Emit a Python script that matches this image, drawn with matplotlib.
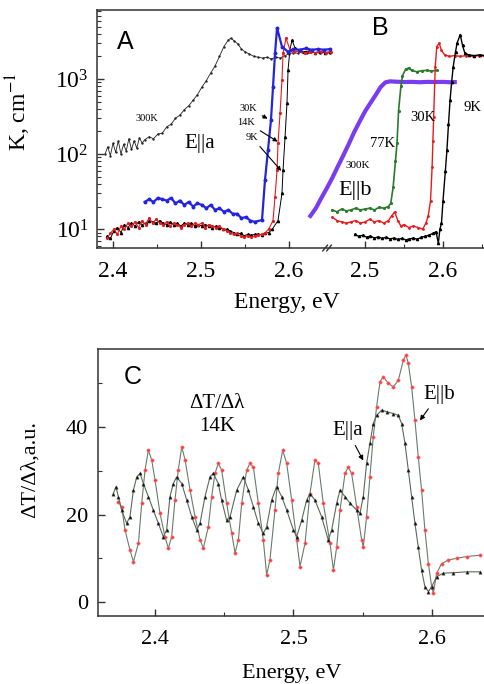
import numpy as np
import matplotlib
matplotlib.use("Agg")
import matplotlib.pyplot as plt
from matplotlib.ticker import FixedLocator, NullFormatter

plt.rcParams['font.family'] = ['Liberation Serif', 'DejaVu Serif']
plt.rcParams['mathtext.fontset'] = 'stix'

# ---------------- panel A (E||a), absorption, log scale ----------------
E_a300 = [2.391, 2.394, 2.397, 2.400, 2.403, 2.406, 2.409, 2.412, 2.415, 2.418, 2.421, 2.424,
          2.427, 2.430, 2.433, 2.436, 2.441, 2.446, 2.451, 2.456, 2.461, 2.466, 2.471, 2.476,
          2.481, 2.486, 2.491, 2.496, 2.501, 2.506, 2.511, 2.516, 2.521, 2.526, 2.531, 2.534,
          2.538, 2.542, 2.546, 2.550, 2.555, 2.560, 2.565, 2.570, 2.575, 2.580, 2.585, 2.590,
          2.595, 2.600, 2.605, 2.610, 2.615, 2.620, 2.625, 2.630, 2.635, 2.640, 2.646]
K_a300 = [100, 125, 95, 140, 105, 150, 100, 135, 110, 160, 115, 150,
          120, 165, 140, 155, 170, 160, 185, 190, 230, 250, 300, 330,
          390, 440, 520, 620, 780, 950, 1200, 1500, 2000, 2700, 3300, 3500,
          3200, 2900, 2500, 2300, 2150, 2000, 1950, 1900, 1950, 1850, 1950, 1900,
          2050, 2150, 2250, 2200, 2300, 2200, 2300, 2250, 2200, 2300, 2200]

E_a30 = [2.436, 2.441, 2.446, 2.451, 2.456, 2.461, 2.466, 2.471, 2.476, 2.481, 2.486, 2.491,
         2.496, 2.501, 2.506, 2.511, 2.516, 2.521, 2.526, 2.531, 2.536, 2.541, 2.546, 2.551,
         2.556, 2.561, 2.5693, 2.5727, 2.5761, 2.5795, 2.5818, 2.5841, 2.5864, 2.592, 2.5989,
         2.605, 2.612, 2.619, 2.626, 2.633, 2.640, 2.646]
K_a30 = [23, 25, 23, 26, 25, 24, 26, 22, 24, 21, 23, 20,
         22, 21, 19, 21, 18, 19, 17, 18, 16, 16, 14, 14.5,
         13, 12.5, 13.2, 45, 113, 283, 780, 2200, 4800, 2700, 2300,
         2500, 2450, 2550, 2450, 2500, 2450, 2500]

E_a14 = [2.393, 2.397, 2.401, 2.405, 2.409, 2.413, 2.417, 2.421, 2.425, 2.429, 2.433, 2.437,
         2.441, 2.445, 2.449, 2.453, 2.457, 2.461, 2.465, 2.469, 2.473, 2.477, 2.481, 2.485,
         2.489, 2.493, 2.497, 2.501, 2.505, 2.509, 2.513, 2.517, 2.521, 2.525, 2.529, 2.533,
         2.537, 2.541, 2.545, 2.549, 2.553, 2.557, 2.561, 2.565, 2.569, 2.573, 2.577, 2.5818,
         2.5841, 2.5864, 2.5875, 2.5898, 2.592, 2.5932, 2.5966, 2.601, 2.606, 2.612, 2.618,
         2.624, 2.630, 2.636, 2.642, 2.648]
K_a14 = [7.5, 8.8, 10, 8.5, 11, 10, 12, 11, 12.5, 10.5, 13, 11.5,
         14, 12, 13.5, 12, 11.5, 12.5, 11, 12, 11.5, 10.5, 11.5, 12,
         11, 12, 11.5, 12, 10.5, 11.5, 11, 10.5, 11, 10, 9.5, 9,
         8.5, 8.8, 8, 7.8, 8.2, 7.8, 8, 8.3, 8.5, 9, 10, 13,
         27, 61, 140, 350, 970, 2200, 3500, 2450, 2300, 2350, 2250,
         2300, 2250, 2300, 2250, 2300]

E_a9 = [2.393, 2.397, 2.401, 2.405, 2.409, 2.413, 2.417, 2.421, 2.425, 2.429, 2.433, 2.437,
        2.441, 2.445, 2.449, 2.453, 2.457, 2.461, 2.465, 2.469, 2.473, 2.477, 2.481, 2.485,
        2.489, 2.493, 2.497, 2.501, 2.505, 2.509, 2.513, 2.517, 2.521, 2.525, 2.529, 2.533,
        2.537, 2.541, 2.545, 2.549, 2.553, 2.557, 2.561, 2.565, 2.569, 2.573, 2.577, 2.581,
        2.5875, 2.592, 2.5932, 2.5955, 2.5977, 2.5989, 2.601, 2.6034, 2.6068, 2.611, 2.617,
        2.623, 2.629, 2.635, 2.641, 2.647]
K_a9 = [8, 7.5, 9.5, 10.5, 9, 11.5, 10.5, 12, 11, 12.5, 11.5, 12,
        13, 12.5, 12, 13, 12, 11.5, 12.5, 11.5, 12, 11, 12, 11.5,
        12, 11, 11.5, 11, 11.5, 11, 10.5, 11, 10.5, 10, 10, 9.5,
        9, 8.5, 8.8, 8.2, 8.5, 8.3, 8.5, 8.6, 8.4, 8.8, 9, 10,
        13, 30, 61, 170, 480, 1320, 2450, 3300, 2600, 2400, 2300,
        2350, 2250, 2300, 2250, 2300]

# ---------------- panel B (E||b) ----------------
E_b300 = [2.430, 2.437, 2.444, 2.451, 2.458, 2.465, 2.472, 2.479, 2.486, 2.493, 2.500, 2.507,
          2.514, 2.520, 2.526, 2.532, 2.540, 2.550, 2.560, 2.570, 2.580, 2.590, 2.600, 2.608, 2.615]
K_b300 = [15, 19, 26, 35, 48, 68, 95, 135, 195, 270, 370, 480,
          620, 780, 900, 930, 920, 910, 915, 905, 915, 910, 915, 905, 910]

E_b77 = [2.458, 2.464, 2.470, 2.476, 2.482, 2.488, 2.494, 2.500, 2.506, 2.512, 2.518, 2.524,
         2.530, 2.533, 2.536, 2.539, 2.541, 2.543, 2.546, 2.548, 2.552, 2.556, 2.560, 2.566,
         2.573, 2.579, 2.585, 2.592]
K_b77 = [18, 17, 18.5, 17.5, 18, 19, 18, 18.5, 19, 18, 19.5, 19,
         20, 22, 36, 80, 140, 380, 800, 1100, 1350, 1400, 1300, 1250,
         1290, 1300, 1280, 1300]

E_b30 = [2.458, 2.464, 2.470, 2.476, 2.482, 2.488, 2.494, 2.500, 2.506, 2.512, 2.518, 2.524,
         2.530, 2.534, 2.538, 2.542, 2.546, 2.550, 2.556, 2.562, 2.568, 2.574, 2.578, 2.581,
         2.584, 2.586, 2.587, 2.588, 2.590, 2.592, 2.595, 2.598, 2.602, 2.608, 2.615, 2.622,
         2.630, 2.638, 2.646, 2.654]
K_b30 = [14.5, 13, 12.5, 12, 12.5, 13, 12, 12.5, 13.5, 12.5, 13, 12,
         13, 15, 17, 13, 11, 11.5, 10.5, 11, 10.5, 10, 12, 15,
         24, 67, 150, 310, 1450, 2700, 3000, 2400, 2100, 2000, 2050, 2000,
         2050, 2000, 2050, 2000]

E_b9 = [2.487, 2.492, 2.497, 2.502, 2.507, 2.512, 2.517, 2.522, 2.527, 2.532, 2.537, 2.542,
        2.547, 2.552, 2.557, 2.562, 2.567, 2.572, 2.577, 2.582, 2.587, 2.591, 2.594, 2.596,
        2.598, 2.600, 2.603, 2.605, 2.607, 2.609, 2.611, 2.613, 2.616, 2.618, 2.622, 2.625,
        2.628, 2.633, 2.640, 2.647, 2.654]
K_b9 = [8.5, 8, 8.3, 7.8, 8.1, 7.6, 7.9, 7.5, 7.8, 7.4, 7.6, 7.3,
        7.5, 7.2, 7.4, 7.6, 7.3, 7.8, 8.0, 8.3, 8.8, 9.2, 6.5, 10,
        12, 24, 60, 113, 250, 520, 900, 1450, 2300, 3000, 3900, 2800,
        2200, 2100, 2050, 2100, 2050]

# ---------------- panel C, derivative dT/dlambda at 14K ----------------
E_cb = [2.3735, 2.3759, 2.3783, 2.3819, 2.3844, 2.3880, 2.3904, 2.3928, 2.3952, 2.3976,
        2.4000, 2.4036, 2.4072, 2.4096, 2.4120, 2.4144, 2.4168, 2.4193, 2.4217, 2.4253,
        2.4289, 2.4325, 2.4349, 2.4385, 2.4409, 2.4433, 2.4457, 2.4481, 2.4517, 2.4554,
        2.4578, 2.4602, 2.4626, 2.4662, 2.4686, 2.4710, 2.4746, 2.4782, 2.4806, 2.4830,
        2.4866, 2.4890, 2.4922, 2.4951, 2.4987, 2.5023, 2.5047, 2.5083, 2.5119, 2.5155,
        2.5179, 2.5215, 2.5264, 2.5288, 2.5312, 2.5336, 2.5372, 2.5396, 2.5420, 2.5456,
        2.5492, 2.5504, 2.5528, 2.5552, 2.5576, 2.5600, 2.5625, 2.5649, 2.5685, 2.5721,
        2.5757, 2.5793, 2.5812, 2.5829, 2.5853, 2.5877, 2.5901, 2.5925, 2.5949, 2.5974,
        2.5998, 2.6010, 2.6034, 2.6070, 2.6118, 2.6178, 2.6250, 2.6347]
D_cb = [22.9, 21.8, 16.5, 11.9, 9.2, 13.4, 22.6, 30.2, 34.7, 32.5,
        27.9, 20.3, 14.9, 12.3, 14.9, 23.3, 30.2, 35.5, 32.5, 25.6,
        19.5, 14.2, 12.3, 17.2, 24.1, 29.4, 31.7, 30.2, 22.6, 15.7,
        11.2, 14.2, 22.6, 30.2, 31.7, 30.9, 22.6, 14.2, 6.2, 9.6,
        21.0, 29.4, 34.7, 31.7, 23.3, 14.2, 8.1, 13.4, 24.8, 32.5,
        31.7, 22.6, 13.4, 7.3, 12.6, 21.0, 29.4, 30.9, 29.4, 21.8,
        14.2, 12.6, 19.5, 28.6, 37.8, 44.6, 50.4, 51.5, 50.0, 49.2,
        50.7, 55.3, 56.5, 54.6, 49.2, 41.6, 33.2, 25.6, 16.5, 8.8,
        3.5, 2.0, 6.6, 8.8, 9.6, 10.0, 10.4, 10.7]

E_ca = [2.3699, 2.3718, 2.3735, 2.3759, 2.3795, 2.3819, 2.3844, 2.3868, 2.3892, 2.3916,
        2.3952, 2.3988, 2.4024, 2.4060, 2.4084, 2.4108, 2.4132, 2.4156, 2.4193, 2.4229,
        2.4265, 2.4301, 2.4325, 2.4361, 2.4397, 2.4421, 2.4457, 2.4481, 2.4517, 2.4542,
        2.4590, 2.4638, 2.4674, 2.4710, 2.4746, 2.4782, 2.4806, 2.4842, 2.4878, 2.4915,
        2.4951, 2.4999, 2.5023, 2.5059, 2.5095, 2.5119, 2.5155, 2.5203, 2.5251, 2.5276,
        2.5312, 2.5336, 2.5372, 2.5408, 2.5456, 2.5480, 2.5504, 2.5528, 2.5552, 2.5576,
        2.5600, 2.5637, 2.5673, 2.5721, 2.5757, 2.5781, 2.5805, 2.5829, 2.5853, 2.5877,
        2.5901, 2.5925, 2.5949, 2.5974, 2.5998, 2.6034, 2.6082, 2.6154, 2.6250, 2.6347]
D_ca = [24.8, 26.4, 24.1, 21.0, 18.0, 19.5, 25.6, 28.6, 29.4, 27.1,
        24.1, 21.0, 18.0, 14.9, 16.5, 24.1, 27.1, 28.6, 27.1, 23.3,
        19.5, 16.5, 18.0, 24.1, 28.6, 29.4, 27.1, 23.3, 18.7, 19.5,
        25.6, 28.6, 25.6, 21.8, 18.0, 15.7, 17.2, 23.3, 26.4, 24.1,
        21.0, 16.5, 14.9, 18.7, 23.3, 24.8, 23.3, 19.5, 14.2, 16.5,
        22.6, 25.6, 24.1, 22.6, 21.0, 20.3, 24.1, 31.7, 36.3, 40.8,
        42.7, 43.9, 43.5, 43.1, 42.7, 40.8, 36.3, 30.2, 24.1, 18.0,
        12.6, 7.3, 3.5, 2.4, 3.5, 5.8, 6.6, 6.7, 6.9, 6.9]

red = '#e8191c'
blue = '#2424dd'
violet = '#7a3cf0'
green = '#2c7a2c'
spine_c = '#333333'

fig = plt.figure(figsize=(4.85, 6.84), dpi=100)

# ---- top panel: two x-scales on one frame ----
axA = fig.add_axes([0.2, 0.6374, 0.8, 0.348])
axB = fig.add_axes([0.2, 0.6374, 0.8, 0.348], sharey=axA)
axB.patch.set_visible(False)
for s in axB.spines.values():
    s.set_visible(False)

axA.plot(E_a300, K_a300, color='#222222', lw=0.6, marker='.', ms=1.4)
axA.plot(E_a9, K_a9, color='k', lw=0.7, marker='^', ms=1.6)
axA.plot(E_a14, K_a14, color=red, lw=0.8, marker='.', ms=2.5)
axA.plot(E_a30, K_a30, color=blue, lw=1.6, marker='o', ms=1.8)

axB.plot(E_b300, K_b300, color=violet, lw=3)
axB.plot(E_b77, K_b77, color=green, lw=1.2, marker='.', ms=2.5)
axB.plot(E_b30, K_b30, color=red, lw=1.0, marker='.', ms=2)
axB.plot(E_b9, K_b9, color='k', lw=1.0, marker='^', ms=1.6)

axA.set_yscale('log')
axA.set_ylim(5.6, 8300)
axA.set_xlim(2.3818, 2.8227)
axB.set_xlim(2.1564, 2.6538)

axA.xaxis.set_major_locator(FixedLocator([2.4, 2.5, 2.6]))
axA.xaxis.set_minor_locator(FixedLocator([2.45, 2.55]))
axB.xaxis.set_major_locator(FixedLocator([2.5, 2.6]))
axB.xaxis.set_minor_locator(FixedLocator([2.55, 2.65]))
axA.set_xticklabels(['2.4', '2.5', '2.6'])
axB.set_xticklabels(['2.5', '2.6'])
axA.yaxis.set_minor_formatter(NullFormatter())

for ax in (axA, axB):
    ax.tick_params(which='both', direction='in', colors=spine_c, labelcolor='k')
    ax.tick_params(which='major', length=5, width=1, labelsize=17, pad=9)
    ax.tick_params(which='minor', length=3, width=0.8)
axA.tick_params(axis='y', which='major', pad=6)
axB.tick_params(axis='y', which='both', left=False, labelleft=False)

axA.spines['right'].set_visible(False)
for s in ('left', 'top', 'bottom'):
    axA.spines[s].set_color(spine_c)
    axA.spines[s].set_linewidth(1.1)

# axis break marks
for xb in (0.588, 0.598):
    axA.plot([xb - 0.006, xb + 0.006], [-0.012, 0.012], transform=axA.transAxes,
             color=spine_c, lw=1, clip_on=False)

axA.set_ylabel('K, cm$^{-1}$', fontsize=17)
axA.yaxis.set_label_coords(-0.165, 0.57)
axA.set_xlabel('Energy, eV', fontsize=17)
axA.xaxis.set_label_coords(0.49, -0.185)

axA.text(2.4136, 3100, 'A', family='Liberation Sans', fontsize=18, ha='center', va='center')
axA.text(2.4386, 300, '300K', fontsize=7.5, ha='center', va='center')
axA.text(2.4989, 140, 'E||a', fontsize=15, ha='center', va='center')
axA.annotate('30K', xy=(2.5784, 284), xytext=(2.5636, 410), fontsize=7.5, ha='right', va='center',
             arrowprops=dict(arrowstyle='-|>', color='k', lw=0.8, mutation_scale=6))
axA.annotate('14K', xy=(2.5898, 140), xytext=(2.5614, 267), fontsize=7.5, ha='right', va='center',
             arrowprops=dict(arrowstyle='-|>', color='k', lw=0.8, mutation_scale=6))
axA.annotate('9K', xy=(2.5932, 56), xytext=(2.5648, 168), fontsize=7.5, ha='right', va='center',
             arrowprops=dict(arrowstyle='-|>', color='k', lw=0.8, mutation_scale=6))

axB.text(2.5192, 4800, 'B', family='Liberation Sans', fontsize=18, ha='center', va='center')
axB.text(2.6372, 423, '9K', fontsize=10.5, ha='center', va='center')
axB.text(2.5744, 311, '30K', fontsize=10.5, ha='center', va='center')
axB.text(2.5218, 140, '77K', fontsize=10.5, ha='center', va='center')
axB.text(2.491, 71, '300K', fontsize=8, ha='center', va='center')
axB.text(2.4872, 33, 'E||b', fontsize=16, ha='center', va='center')

# ---- bottom panel C ----
axC = fig.add_axes([0.202, 0.0994, 0.798, 0.390])
axC.plot(E_cb, D_cb, color='#6b7b6b', lw=0.8, marker='o', ms=2.4,
         mfc='#ff3a3a', mec='#f08080', mew=0.4)
axC.plot(E_ca, D_ca, color='#5a6a5a', lw=0.8, marker='^', ms=2.4,
         mfc='#111111', mec='#444444', mew=0.3)
axC.set_xlim(2.3588, 2.6383)
axC.set_ylim(-3.2, 57.8)
axC.xaxis.set_major_locator(FixedLocator([2.4, 2.5, 2.6]))
axC.xaxis.set_minor_locator(FixedLocator([2.45, 2.55]))
axC.yaxis.set_major_locator(FixedLocator([0, 20, 40]))
axC.yaxis.set_minor_locator(FixedLocator([10, 30, 50]))
axC.set_xticklabels(['2.4', '2.5', '2.6'])
axC.set_yticklabels(['0', '20', '40'])
axC.tick_params(which='both', direction='in', colors=spine_c, labelcolor='k')
axC.tick_params(which='major', length=5, width=1, labelsize=16)
axC.tick_params(axis='x', which='major', pad=10)
axC.tick_params(axis='y', which='major', pad=7)
axC.tick_params(which='minor', length=3, width=0.8)
axC.spines['right'].set_visible(False)
for s in ('left', 'top', 'bottom'):
    axC.spines[s].set_color(spine_c)
    axC.spines[s].set_linewidth(1.1)

axC.set_ylabel('ΔT/Δλ,a.u.', fontsize=16)
axC.yaxis.set_label_coords(-0.15, 0.55)
axC.set_xlabel('Energy, eV', fontsize=16)
axC.xaxis.set_label_coords(0.5, -0.18)

axC.text(2.3840, 51.4, 'C', family='Liberation Sans', fontsize=18, ha='center', va='center')
axC.text(2.4446, 45.5, 'ΔT/Δλ', fontsize=15, ha='center', va='center')
axC.text(2.4446, 40.2, '14K', fontsize=15, ha='center', va='center')
axC.annotate('E||a', xy=(2.5513, 31.8), xytext=(2.5390, 37.0), fontsize=15, ha='center', va='bottom',
             arrowprops=dict(arrowstyle='-|>', color='k', lw=0.8, mutation_scale=7))
axC.annotate('E||b', xy=(2.5901, 41.0), xytext=(2.6050, 47.5), fontsize=15, ha='center', va='center',
             arrowprops=dict(arrowstyle='-|>', color='k', lw=0.8, mutation_scale=7))

fig.savefig('out.png', dpi=100)
